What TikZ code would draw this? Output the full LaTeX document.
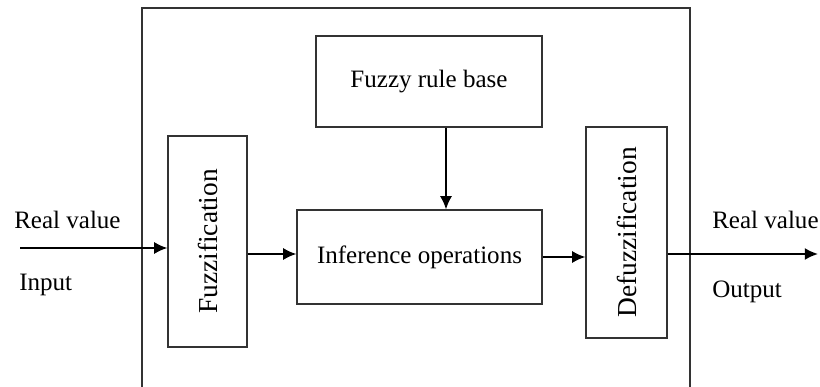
\documentclass[tikz,border=0pt]{standalone}
\usepackage{fontspec}
\setmainfont{Liberation Serif}
\usetikzlibrary{arrows.meta}

\begin{document}
\begin{tikzpicture}[
    font=\fontsize{17.8}{20}\selectfont,
    block/.style={draw=black!80,line width=0.8pt,inner sep=0pt},
    side/.style={block,rotate=90,font=\fontsize{19.5}{22}\selectfont},
    flow/.style={-{Latex[length=0.33cm,width=0.3cm]},line width=1.3pt},
    lbl/.style={inner sep=0pt,anchor=base west}]
    \useasboundingbox (0,0) rectangle (20.5,9.675);

    \draw[black!80,line width=0.9pt] (3.55,-0.2) -- (3.55,9.475) -- (17.25,9.475) -- (17.25,-0.2);

    \node[block,minimum width=5.65cm,minimum height=2.275cm] (rulebase) at (10.725,7.6375) {Fuzzy rule base};
    \node[side,minimum width=5.275cm,minimum height=1.975cm] (fuzz) at (5.1875,3.6375) {Fuzzification};
    \node[block,minimum width=6.125cm,minimum height=2.35cm] (infer) at (10.4875,3.25) {Inference operations};
    \node[side,minimum width=5.275cm,minimum height=2.025cm] (defuzz) at (15.6625,3.8625) {Defuzzification};

    \coordinate (in) at (0.5,3.475);
    \coordinate (out) at (20.45,3.325);

    \node[lbl] (inval) at (0.35,3.95) {Real value};
    \node[lbl] (inlbl) at (0.475,2.41) {Input};
    \node[lbl] (outval) at (17.8,3.95) {Real value};
    \node[lbl] (outlbl) at (17.8,2.225) {Output};

    \draw[flow] (in) -- (fuzz.north |- in);
    \draw[flow] (fuzz.south |- 0,3.325) -- (infer.west |- 0,3.325);
    \draw[flow] (infer.east) -- (defuzz.north |- infer.east);
    \draw[flow] (defuzz.south |- out) -- (out);
    \draw[flow] (rulebase.south -| 11.15,0) -- (infer.north -| 11.15,0);

    \end{tikzpicture}
\end{document}
